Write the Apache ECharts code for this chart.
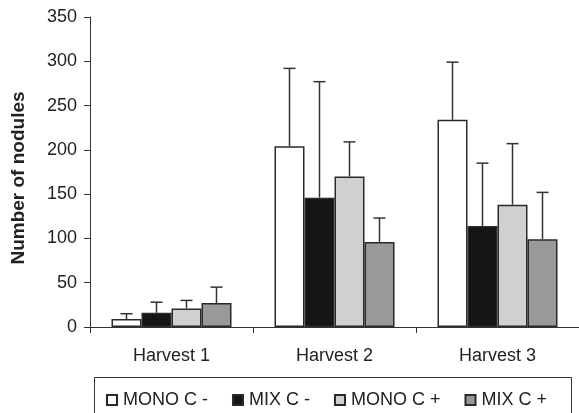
<!DOCTYPE html>
<html>
<head>
<meta charset="utf-8">
<script src="https://cdn.jsdelivr.net/npm/echarts@6/dist/echarts.min.js"></script>
<style>
html,body{margin:0;padding:0;background:#fff;}
#chart{width:579px;height:413px;}
</style>
</head>
<body>
<div id="chart"></div>
<script>
var categories = ['Harvest 1', 'Harvest 2', 'Harvest 3'];
var seriesNames = ['MONO C -', 'MIX C -', 'MONO C +', 'MIX C +'];
var monoCMinus = [9, 204, 234];
var mixCMinus = [16, 146, 114];
var monoCPlus = [21, 170, 138];
var mixCPlus = [27, 96, 99];
var monoCMinusErr = [6, 88, 65];
var mixCMinusErr = [12, 131, 71];
var monoCPlusErr = [9, 39, 69];
var mixCPlusErr = [18, 27, 53];
var yTicks = [0, 50, 100, 150, 200, 250, 300, 350];

var values = [monoCMinus, mixCMinus, monoCPlus, mixCPlus];
var errors = [monoCMinusErr, mixCMinusErr, monoCPlusErr, mixCPlusErr];
var fills = ['#ffffff', '#151515', '#d0d0d0', '#999999'];
var BAR_W = 30;
var FONT = 'Liberation Sans, Arial, sans-serif';

var chart = echarts.init(document.getElementById('chart'), null, {renderer: 'canvas'});

var series = [];
values.forEach(function (vals, k) {
  series.push({
    name: seriesNames[k],
    type: 'bar',
    data: vals,
    barWidth: BAR_W,
    barGap: '0%',
    itemStyle: {color: fills[k], borderColor: '#2a2a2a', borderWidth: 1.5},
    emphasis: {disabled: true},
    z: 2
  });
});
values.forEach(function (vals, k) {
  series.push({
    type: 'custom',
    name: 'err' + k,
    data: vals.map(function (v, i) { return [i, v, errors[k][i]]; }),
    z: 3,
    silent: true,
    renderItem: function (params, api) {
      var i = api.value(0), v = api.value(1), e = api.value(2);
      var p0 = api.coord([i, v]);
      var p1 = api.coord([i, v + e]);
      var x = p0[0] + (k - 1.5) * BAR_W;
      var cap = 6;
      var style = {stroke: '#333', lineWidth: 1.5};
      return {
        type: 'group',
        children: [
          {type: 'line', shape: {x1: x, y1: p0[1], x2: x, y2: p1[1]}, style: style},
          {type: 'line', shape: {x1: x - cap, y1: p1[1], x2: x + cap, y2: p1[1]}, style: style}
        ]
      };
    }
  });
});

chart.setOption({
  animation: false,
  backgroundColor: '#ffffff',
  textStyle: {fontFamily: FONT},
  grid: {left: 90, right: 0, top: 17, bottom: 86, containLabel: false},
  xAxis: {
    type: 'category',
    data: categories,
    axisLine: {lineStyle: {color: '#333', width: 1}},
    axisTick: {show: true, length: 6, lineStyle: {color: '#333'}},
    axisLabel: {color: '#222', fontSize: 18, fontFamily: FONT, margin: 20}
  },
  yAxis: {
    type: 'value',
    min: 0,
    max: 350,
    interval: 50,
    name: 'Number of nodules',
    nameLocation: 'middle',
    nameGap: 62,
    nameTextStyle: {fontSize: 19, fontWeight: 'bold', color: '#222', fontFamily: FONT, padding: [0, 12, 0, 0]},
    splitLine: {show: false},
    axisLine: {show: true, lineStyle: {color: '#333', width: 1}},
    axisTick: {show: true, length: 6, lineStyle: {color: '#333'}},
    axisLabel: {color: '#222', fontSize: 18, fontFamily: FONT, margin: 13,
      formatter: function (v) { return yTicks.indexOf(v) >= 0 ? String(v) : ''; }}
  },
  legend: {
    data: seriesNames,
    left: 101,
    top: 386,
    itemWidth: 10,
    itemHeight: 10,
    itemGap: 24,
    icon: 'rect',
    textStyle: {fontSize: 18, color: '#222', fontFamily: FONT, padding: [0, 0, 0, 1]}
  },
  graphic: [{
    type: 'rect',
    left: 92,
    top: 375,
    shape: {width: 477, height: 60},
    style: {fill: 'none', stroke: '#333', lineWidth: 1},
    silent: true
  }],
  series: series
});
</script>
</body>
</html>
